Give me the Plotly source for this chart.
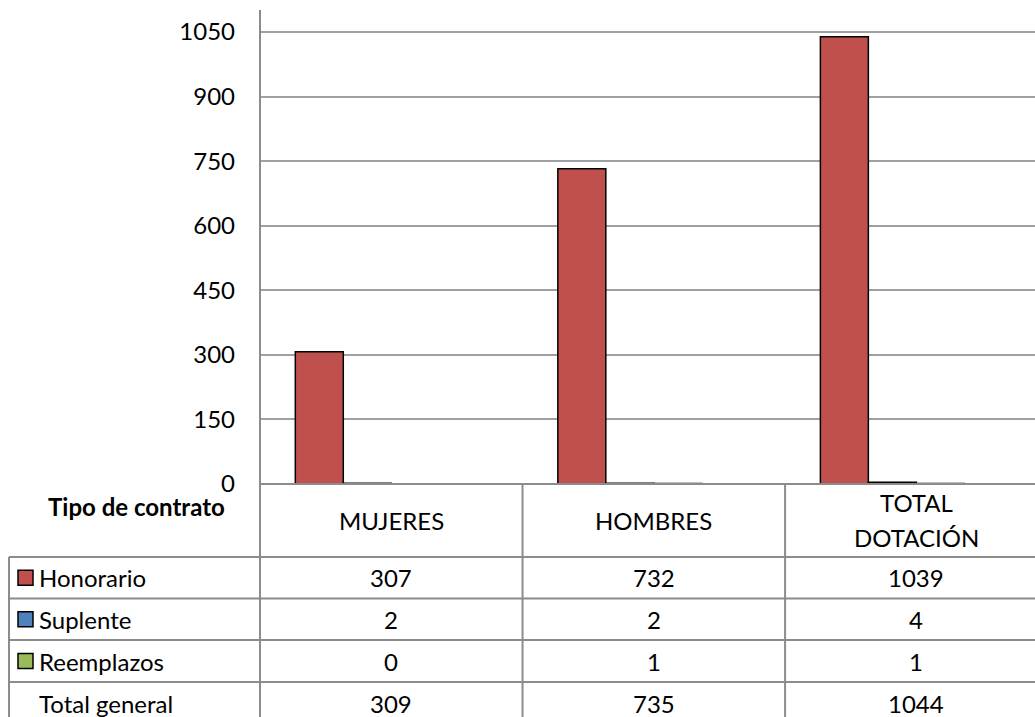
import plotly.graph_objects as go

# ---- data -------------------------------------------------------------
categories = ["MUJERES", "HOMBRES", "TOTAL<br>DOTACIÓN"]
honorario = [307, 732, 1039]
suplente = [2, 2, 4]
reemplazos = [0, 1, 1]
total_general = [309, 735, 1044]
y_ticks = [0, 150, 300, 450, 600, 750, 900, 1050]

series_names = ["Honorario", "Suplente", "Reemplazos"]
series_values = [honorario, suplente, reemplazos]
series_colors = ["#C0504D", "#4F81BD", "#9BBB59"]

# ---- geometry ---------------------------------------------------------
W, H = 1035, 717
L, T, B = 260, 10, 233
plot_w = W - L
plot_h = H - T - B
x_range = [-0.5, 2.452]
y_range = [0, 1101]

FONT = "Lato"
FS = 24
GRID = "#A0A0A0"
TABLE = "#8C8C8C"


def px_x(p):
    return (p - L) / plot_w


def px_y(p):
    return (T + plot_h - p) / plot_h


def cat_px(c):
    return L + (c - x_range[0]) / (x_range[1] - x_range[0]) * plot_w


fig = go.Figure()
x_idx = list(range(len(categories)))
for name, vals, col in zip(series_names, series_values, series_colors):
    fig.add_trace(go.Bar(
        x=x_idx, y=vals, name=name,
        marker=dict(color=col, line=dict(color="#000000", width=1.5)),
        showlegend=False,
    ))
# the "Total general" series keeps its slot in each group but is not filled
fig.add_trace(go.Bar(
    x=x_idx, y=total_general, name="Total general",
    marker=dict(color="rgba(0,0,0,0)", line=dict(width=0)),
    showlegend=False, hoverinfo="skip",
))

shapes = []
annotations = []


def text(t, x, y, xanchor="center", bold=False):
    annotations.append(dict(text=f"<b>{t}</b>" if bold else t,
                            xref="paper", yref="paper", x=x, y=y,
                            xanchor=xanchor, yanchor="middle", showarrow=False,
                            font=dict(family=FONT, size=FS, color="#000")))


def hline(x0, x1, y):
    shapes.append(dict(type="line", xref="paper", yref="paper",
                       x0=px_x(x0), x1=px_x(x1), y0=px_y(y), y1=px_y(y),
                       line=dict(color=TABLE, width=2)))


def vline(x, y0, y1):
    shapes.append(dict(type="line", xref="paper", yref="paper",
                       x0=px_x(x), x1=px_x(x), y0=px_y(y0), y1=px_y(y1),
                       line=dict(color=TABLE, width=2)))


# table grid
row_edges = [484, 557, 598.5, 640, 682, 724]
right = W + 20
hline(L, right, row_edges[0])          # category axis / table top
for e in row_edges[1:]:
    hline(9, right, e)
vline(L, T, H + 20)                    # value axis running through the table
vline(9, row_edges[1], H + 20)         # left edge of legend column
for c in [0.5, 1.5]:
    vline(cat_px(c), row_edges[0], H + 20)

# header row
text("Tipo de contrato", px_x(227), px_y(506), xanchor="right", bold=True)
for i, cat in enumerate(categories):
    lines = cat.split("<br>")
    step = 35
    y0 = 520 - step * (len(lines) - 1) / 2
    for k, ln in enumerate(lines):
        text(ln, px_x(cat_px(i)), px_y(y0 + k * step))

# body rows
row_labels = series_names + ["Total general"]
row_values = series_values + [total_general]
row_colors = series_colors + [None]
for r, (lab, vals, col) in enumerate(zip(row_labels, row_values, row_colors)):
    yc = (row_edges[r + 1] + row_edges[r + 2]) / 2
    if col is not None:
        shapes.append(dict(type="rect", xref="paper", yref="paper",
                           x0=px_x(18), x1=px_x(33), y0=px_y(yc + 7.5), y1=px_y(yc - 7.5),
                           fillcolor=col, line=dict(color="#000", width=1.5)))
    text(lab, px_x(37), px_y(yc), xanchor="left")
    for i, v in enumerate(vals):
        text(str(v), px_x(cat_px(i)), px_y(yc))

fig.update_layout(
    width=W, height=H,
    margin=dict(l=L, r=0, t=T, b=B, pad=0),
    paper_bgcolor="white", plot_bgcolor="white",
    barmode="group", bargap=0.269, bargroupgap=0,
    font=dict(family=FONT, size=FS, color="#000"),
    xaxis=dict(range=x_range, showticklabels=False, showgrid=False,
               zeroline=False, showline=False, ticks=""),
    yaxis=dict(range=y_range, tickvals=y_ticks, ticktext=[str(v) for v in y_ticks],
               showgrid=True, gridcolor=GRID, gridwidth=2, zeroline=False,
               showline=False, ticks="", ticklabelstandoff=24,
               tickfont=dict(family=FONT, size=FS, color="#000")),
    shapes=shapes, annotations=annotations,
)

fig.write_html("out.html")
